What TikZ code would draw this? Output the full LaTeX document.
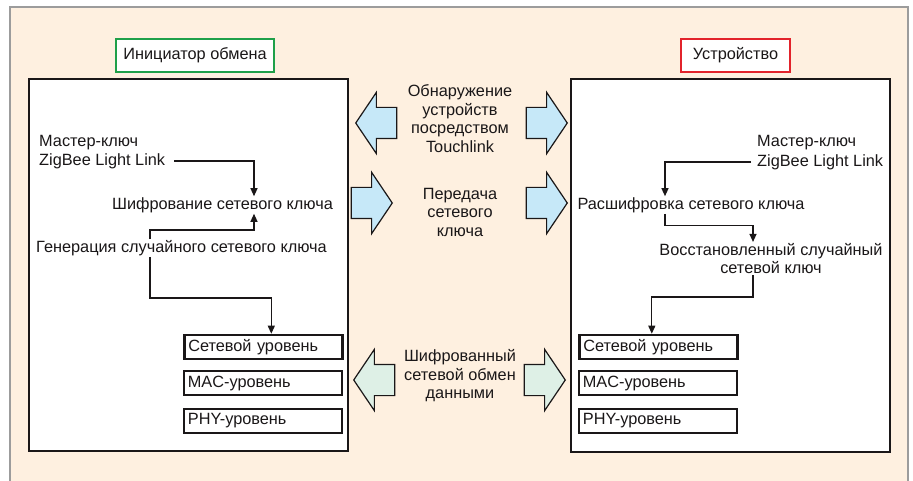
\documentclass[tikz,border=0pt]{standalone}
\usepackage{fontspec}
\setmainfont{Liberation Sans}
\usetikzlibrary{shapes.arrows,arrows.meta}
\definecolor{peach}{HTML}{FEF0E0}
\definecolor{framegray}{HTML}{9C9C9C}
\definecolor{arrowblue}{HTML}{C6E8F8}
\definecolor{arrowgreen}{HTML}{DEF0E6}
\definecolor{boxgreen}{HTML}{1FA04A}
\definecolor{boxred}{HTML}{E2232B}
\definecolor{ink}{HTML}{1A1718}

\begin{document}
\begin{tikzpicture}[x=1pt,y=-1pt,font=\fontsize{16.3}{18.5}\selectfont,text=ink]
\tikzset{panel/.style = {draw=ink,line width=2pt,fill=white,minimum width=319pt,minimum height=372pt},
         title/.style = {draw,line width=2pt,fill=white,minimum height=33pt},
         label/.style = {inner sep=1pt},
         layer/.style = {draw=ink,line width=1.8pt,anchor=west,text width=150pt,align=left,
                         inner xsep=4pt,inner ysep=0pt,minimum height=24pt},
         link/.style = {draw=ink,line width=1.2pt,-{Triangle[length=8pt,width=7pt]}},
         bigarrow/.style = {single arrow,draw=ink,line width=1.2pt,inner xsep=0pt,inner ysep=15pt,
                            single arrow head extend=15pt,single arrow tip angle=112,
                            minimum height=41pt,anchor=tip}}
\useasboundingbox (0,0) rectangle (913,481);
% background
\fill[peach] (10,7) rectangle (908,490);
\draw[framegray,line width=2.5pt] (10,490) -- (10,7) -- (908,7) -- (908,490);
% panels
\node[panel] (initBox) at (188.5,265) {};
\node[panel] (devBox) at (730.5,265.5) {};
\node[title,draw=boxgreen,minimum width=158pt] (initTitle) at (195,55.5) {Инициатор обмена};
\node[title,draw=boxred,minimum width=109pt] (devTitle) at (735.5,55.5) {Устройство};
% initiator side
\node[label,anchor=west] (mkL) at (38,143) {Мастер-ключ};
\node[label,anchor=west] (zbL) at (38,161) {ZigBee Light Link};
\node[label] (encL) at (222.5,205) {Шифрование сетевого ключа};
\node[label] (genL) at (181.5,248) {Генерация случайного сетевого ключа};
% device side
\node[label,anchor=west] (mkR) at (756,143) {Мастер-ключ};
\node[label,anchor=west] (zbR) at (756,162) {ZigBee Light Link};
\node[label] (decR) at (691,205) {Расшифровка сетевого ключа};
\node[label,align=center] (recR) at (771,258.5) {Восстановленный случайный\\сетевой ключ};
% layers
\foreach \side/\x in {L/183,R/578} {
    \node[layer,line width=2.6pt] (net\side) at (\x,347) {Сетевой уровень};
    \node[layer] (mac\side) at (\x,383) {MAC-уровень};
    \node[layer] (phy\side) at (\x,421) {PHY-уровень};
}
% links
\draw[link] ([xshift=8]zbL.east) -| ([xshift=31.5]encL.north);
\draw[link] ([xshift=-31.5]genL.north) -- ++(0,-9) -| ([xshift=31.5]encL.south);
\draw[link] ([xshift=-31.5]genL.south) -- ++(0,41) -| ([xshift=8]netL.north);
\draw[link] ([xshift=-5]zbR.west) -| ([xshift=-26]decR.north);
\draw[link] ([xshift=-26]decR.south) -- ++(0,12) -| ([xshift=-18]recR.north);
\draw[link] ([xshift=-18]recR.south) -- ++(0,22) -| ([xshift=-6.5]netR.north);
% exchange
\node[label,align=center] (disc) at (460,118.5) {Обнаружение\\устройств\\посредством\\Touchlink};
\node[label,align=center] (xfer) at (460,212) {Передача\\сетевого\\ключа};
\node[label,align=center] (data) at (460,376) {Шифрованный\\сетевой обмен\\данными};
\foreach \name/\x/\y/\rot/\col in {discL/355/123/180/arrowblue, discR/568/123/0/arrowblue,
        xferL/393/203/0/arrowblue, xferR/568/203/0/arrowblue,
        dataL/353/380/180/arrowgreen, dataR/566/380/0/arrowgreen} {
    \node[bigarrow,fill=\col,shape border rotate=\rot] (\name) at (\x,\y) {};
}
\end{tikzpicture}
\end{document}
